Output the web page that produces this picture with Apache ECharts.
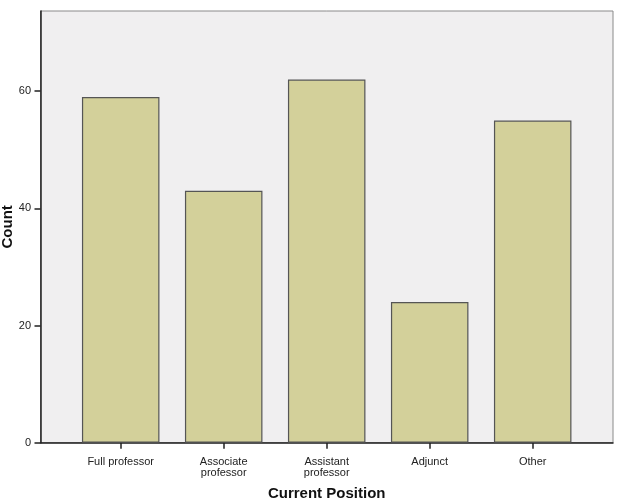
<!DOCTYPE html>
<html>
<head>
<meta charset="utf-8">
<script src="https://cdn.jsdelivr.net/npm/echarts@6/dist/echarts.min.js"></script>
<style>
  html, body { margin: 0; padding: 0; background: #fff; }
  #chart { width: 618px; height: 499px; }
</style>
</head>
<body>
<div id="chart"></div>
<script>
const categories = ["Full professor", "Associate\nprofessor", "Assistant\nprofessor", "Adjunct", "Other"];
const counts = [59, 43, 62, 24, 55];
const yTicks = [0, 20, 40, 60];
const yMax = 73.7;

const font = "Liberation Sans, Arial, sans-serif";
const chart = echarts.init(document.getElementById("chart"));

chart.setOption({
  animation: false,
  backgroundColor: "#ffffff",
  grid: [
    // full plot frame
    { left: 40.5, right: 5, top: 11, bottom: 56.3, show: true, outerBoundsMode: "none",
      backgroundColor: "#f0eff0", borderColor: "#8a8a8a", borderWidth: 1 },
    // inner grid where the categories live
    { left: 69.2, right: 33.8, top: 11, bottom: 56.3, outerBoundsMode: "none" },
  ],
  xAxis: [
    {
      gridIndex: 0, type: "value", min: 0, max: 1,
      axisLine: { show: true, lineStyle: { color: "#222", width: 1.5 } },
      axisTick: { show: false }, axisLabel: { show: false }, splitLine: { show: false },
    },
    {
      gridIndex: 1, type: "category", data: categories,
      axisLine: { show: false },
      axisTick: { show: true, alignWithLabel: true, length: 6, lineStyle: { color: "#222", width: 1.5 } },
      axisLabel: { color: "#222", fontSize: 11, fontFamily: font, lineHeight: 11, margin: 14 },
      name: "Current Position", nameLocation: "middle", nameGap: 44, nameMoveOverlap: false,
      nameTextStyle: { color: "#111", fontSize: 15, fontWeight: "bold", fontFamily: font },
    },
  ],
  yAxis: [
    {
      gridIndex: 0, type: "value", min: 0, max: yMax, interval: 20,
      axisLine: { show: true, lineStyle: { color: "#222", width: 1.5 } },
      axisTick: { show: true, length: 6, customValues: yTicks, lineStyle: { color: "#222", width: 1.5 } },
      axisLabel: { color: "#222", fontSize: 11, fontFamily: font, margin: 9.5, customValues: yTicks },
      splitLine: { show: false },
      name: "Count", nameLocation: "middle", nameGap: 25, nameMoveOverlap: false,
      nameTextStyle: { color: "#111", fontSize: 15, fontWeight: "bold", fontFamily: font },
    },
    {
      gridIndex: 1, type: "value", min: 0, max: yMax, interval: 20, show: false,
    },
  ],
  series: [
    {
      type: "bar", xAxisIndex: 1, yAxisIndex: 1,
      data: counts,
      barWidth: 77.5,
      itemStyle: { color: "#d3d09a", borderColor: "#555", borderWidth: 1.2 },
    },
  ],
});
</script>
</body>
</html>
